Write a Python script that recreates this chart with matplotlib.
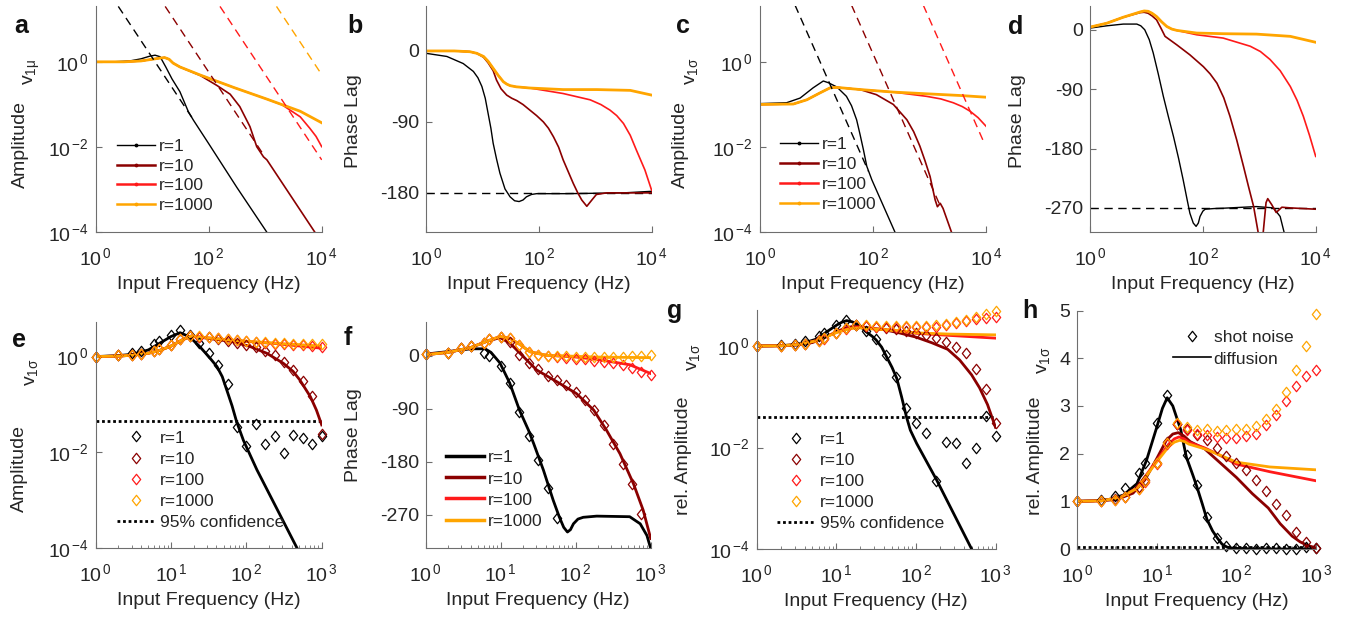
import numpy as np
import matplotlib
matplotlib.use("Agg")
import matplotlib.pyplot as plt
from matplotlib.lines import Line2D
from matplotlib.path import Path
from matplotlib.ticker import LogLocator, NullLocator, NullFormatter, FixedLocator, FuncFormatter

plt.rcParams.update({
    "font.family": ["Liberation Sans", "DejaVu Sans"],
    "font.size": 14,
    "mathtext.fontset": "custom",
    "mathtext.rm": "Liberation Sans",
    "mathtext.it": "Liberation Sans",
    "mathtext.bf": "Liberation Sans:bold",
    "axes.unicode_minus": False,
    "text.color": "#262626",
    "axes.labelcolor": "#262626",
})

# ---------------------------------------------------------------- colours
C1, C10, C100, C1000 = "#000000", "#8b0000", "#ff1a1a", "#ffa500"
RATES = ["r=1", "r=10", "r=100", "r=1000"]
COLS = [C1, C10, C100, C1000]

# ---------------------------------------------------------------- data
# top row: log10(frequency / Hz) and log10(amplitude) or phase (deg)
# (a) v1mu amplitude
a_lf_r1 = [0, 0.3, 0.6, 0.8, 0.95, 1.05, 1.14, 1.24, 1.35, 1.49, 1.64, 1.73, 2.0, 2.5, 3.03]
a_la_r1 = [0, 0.0, 0.02, 0.07, 0.13, 0.156, 0.12, -0.12, -0.40, -0.70, -1.17, -1.37, -1.92, -2.95, -4.0]
a_lf_r10 = [0, 0.5, 0.8, 1.0, 1.15, 1.22, 1.3, 1.37, 1.49, 1.85, 2.14, 2.38, 2.55, 2.73, 2.85, 2.97, 3.03, 3.5, 3.88]
a_la_r10 = [0, 0.0, 0.02, 0.06, 0.09, 0.10, 0.06, -0.03, -0.12, -0.32, -0.55, -0.76, -1.05, -1.52, -1.99, -2.23, -2.30, -3.24, -4.0]
a_lf_r100 = [0, 0.5, 0.8, 1.0, 1.15, 1.22, 1.3, 1.37, 1.49, 1.85, 2.44, 3.03, 3.3, 3.62, 3.79, 3.9, 4.0]
a_la_r100 = [0, 0.0, 0.02, 0.06, 0.09, 0.10, 0.06, -0.03, -0.12, -0.31, -0.60, -0.875, -1.01, -1.29, -1.56, -1.75, -1.99]
a_lf_r1000 = [0, 0.5, 0.8, 1.0, 1.15, 1.22, 1.3, 1.37, 1.49, 1.85, 2.44, 3.03, 3.62, 4.0]
a_la_r1000 = [0, 0.0, 0.02, 0.06, 0.09, 0.10, 0.06, -0.03, -0.12, -0.31, -0.60, -0.875, -1.16, -1.43]
a_asym_lf = [[0.40, 1.70], [1.23, 2.97], [2.20, 4.0], [3.20, 4.0]]
a_asym_la = [[1.30, -1.30], [1.30, -2.18], [1.30, -2.30], [1.30, -0.30]]

# (b) v1mu phase
b_lf_r1 = [0, 0.37, 0.66, 0.84, 0.92, 0.99, 1.05, 1.10, 1.15, 1.19, 1.25, 1.31, 1.40, 1.49, 1.57, 1.65,
           1.72, 1.78, 1.87, 1.96, 2.5, 3.0, 3.5, 4.0]
b_ph_r1 = [-3, -7, -16, -26, -34, -45, -60, -79, -98, -117, -137, -155, -175, -185, -190, -191,
           -189, -185, -182, -181, -181, -180.5, -180, -178]
b_lf_r10 = [0, 0.5, 0.78, 0.9, 1.02, 1.1, 1.19, 1.25, 1.33, 1.43, 1.52, 1.61, 1.72, 1.84, 1.96, 2.08, 2.17,
            2.26, 2.35, 2.43, 2.52, 2.61, 2.69, 2.76, 2.85, 2.94, 3.02, 3.2, 3.6, 4.0]
b_ph_r10 = [0, 0, -1, -3, -8, -15, -25, -37, -48, -56, -60, -63, -68, -75, -82, -90, -98,
            -109, -122, -138, -153, -168, -180, -189, -197, -189, -182, -180, -180, -180]
b_lf_r100 = [0, 0.5, 0.78, 0.9, 1.02, 1.1, 1.19, 1.28, 1.37, 1.43, 1.49, 1.6, 1.84, 2.43, 2.91, 3.1, 3.26,
             3.38, 3.50, 3.62, 3.73, 3.88, 4.0]
b_ph_r100 = [0, 0, -1, -3, -7, -13, -22, -31, -39, -42, -44, -45.5, -47, -54, -62, -68, -75,
             -82, -92, -107, -126, -151, -177]
b_lf_r1000 = [0, 0.5, 0.78, 0.9, 1.02, 1.1, 1.19, 1.28, 1.37, 1.43, 1.49, 1.6, 1.84, 2.43, 3.03, 3.62, 4.0]
b_ph_r1000 = [0, 0, -1, -3, -7, -13, -22, -31, -39, -42, -44, -45.5, -47, -49, -49, -50, -56]
b_asym = -180

# (c) v1sigma amplitude
c_lf_r1 = [0, 0.47, 0.71, 0.94, 1.12, 1.21, 1.36, 1.53, 1.62, 1.71, 1.77, 1.83, 1.89, 1.98, 2.39]
c_la_r1 = [-0.98, -0.96, -0.85, -0.61, -0.45, -0.49, -0.59, -0.81, -1.03, -1.36, -1.70, -2.06, -2.45, -2.77, -4.0]
c_lf_r10 = [0, 0.59, 0.83, 1.06, 1.24, 1.36, 1.77, 2.06, 2.36, 2.60, 2.72, 2.83, 2.92, 3.01, 3.10, 3.14, 3.19,
            3.24, 3.39]
c_la_r10 = [-1.0, -0.99, -0.89, -0.73, -0.61, -0.60, -0.65, -0.77, -1.0, -1.36, -1.64, -1.98, -2.32, -2.69, -3.24,
            -3.40, -3.32, -3.44, -4.0]
c_lf_r100 = [0, 0.59, 0.83, 1.06, 1.24, 1.36, 1.77, 2.36, 2.95, 3.2, 3.42, 3.58, 3.72, 3.86, 4.0]
c_la_r100 = [-1.0, -0.99, -0.89, -0.73, -0.61, -0.60, -0.65, -0.71, -0.81, -0.87, -0.96, -1.05, -1.16, -1.31, -1.51]
c_lf_r1000 = [0, 0.59, 0.83, 1.06, 1.24, 1.36, 1.77, 2.36, 2.95, 3.54, 4.0]
c_la_r1000 = [-1.0, -0.99, -0.89, -0.73, -0.61, -0.60, -0.65, -0.71, -0.75, -0.79, -0.83]
c_asym_lf = [[0.62, 1.92], [1.62, 3.19], [2.89, 3.98]]
c_asym_la = [[1.33, -2.57], [1.33, -3.38], [1.33, -1.94]]

# (d) v1sigma phase
d_lf_r1 = [0, 0.30, 0.59, 0.83, 0.90, 0.97, 1.05, 1.12, 1.21, 1.30, 1.39, 1.48, 1.57, 1.65, 1.72, 1.77, 1.83,
           1.88, 1.92, 1.95, 2.0, 2.04, 2.2, 2.36, 2.95, 3.25, 3.37, 3.44, 3.5]
d_ph_r1 = [2.5, 6, 8.6, 8.6, 6, 0, -15, -35, -67, -101, -132, -162, -195, -227, -257, -278, -293,
           -298, -293, -283, -275, -272, -271, -270.5, -268, -270, -283, -307, -330]
d_lf_r10 = [0, 0.30, 0.59, 0.89, 0.96, 1.03, 1.1, 1.18, 1.26, 1.33, 1.54, 1.77, 2.01, 2.13, 2.25, 2.37, 2.48,
            2.60, 2.72, 2.81, 2.90, 2.98, 3.02, 3.06, 3.07, 3.12, 3.15, 3.22, 3.30, 3.40, 3.55, 4.0]
d_ph_r10 = [4, 10, 19, 26, 26.5, 25, 21, 15, 2, -10, -23, -38, -56, -67, -81, -103, -131,
            -167, -207, -238, -268, -307, -340, -340, -307, -262, -256, -265, -277, -269, -270, -272]
d_lf_r100 = [0, 0.30, 0.59, 0.89, 0.96, 1.03, 1.1, 1.18, 1.27, 1.36, 1.45, 1.54, 1.89, 2.36, 2.84, 3.02, 3.19,
             3.37, 3.55, 3.67, 3.78, 3.89, 4.0]
d_ph_r100 = [4, 10, 19, 27, 28.5, 28, 25, 20, 12, 5, 1, -1, -7.6, -12.6, -25, -33, -45,
             -62, -86, -107, -131, -160, -192]
d_lf_r1000 = [0, 0.30, 0.59, 0.89, 0.96, 1.03, 1.1, 1.18, 1.27, 1.36, 1.45, 1.54, 1.89, 2.36, 2.95, 3.55, 4.0]
d_ph_r1000 = [4, 10, 19, 27, 28.5, 28, 25, 20, 12, 5, 1, -1, -5, -6, -6.6, -10, -19]
d_asym = -270

# bottom row: simulation frequencies (Hz)
F_sim = [1, 2, 3, 4, 6, 7, 10, 13.3, 17.8, 23.7, 31.6, 42.2, 56.2, 75, 100, 133, 178, 237, 316, 422, 562, 750, 1000]

# (e) v1sigma amplitude, shot noise (diamonds, log10) and diffusion (lines)
e_dia_r1 = [0, 0.04, 0.07, 0.12, 0.26, 0.32, 0.46, 0.56, 0.45, 0.28, 0.07, -0.17, -0.57, -1.47, -1.88, -1.41,
            -1.82, -1.66, -2.02, -1.64, -1.71, -1.82, -1.66]
e_dia_r10 = [0, 0.03, 0.04, 0.06, 0.11, 0.16, 0.25, 0.36, 0.44, 0.42, 0.40, 0.37, 0.33, 0.29, 0.25, 0.20,
             0.11, 0.03, -0.11, -0.29, -0.52, -0.82, -1.62]
e_dia_r100 = [0, 0.03, 0.04, 0.06, 0.11, 0.16, 0.25, 0.36, 0.44, 0.42, 0.40, 0.38, 0.36, 0.34, 0.32, 0.30,
              0.29, 0.27, 0.26, 0.25, 0.24, 0.22, 0.20]
e_dia_r1000 = [0, 0.03, 0.04, 0.06, 0.11, 0.16, 0.25, 0.36, 0.44, 0.43, 0.41, 0.39, 0.37, 0.35, 0.33, 0.31,
               0.30, 0.29, 0.28, 0.27, 0.27, 0.26, 0.26]
e_lf_r1 = [0, 0.3, 0.5, 0.7, 0.85, 1.0, 1.12, 1.25, 1.38, 1.5, 1.61, 1.68, 1.74, 1.81, 1.87, 1.96, 2.14, 2.67]
e_la_r1 = [0, 0.02, 0.05, 0.14, 0.28, 0.42, 0.50, 0.41, 0.21, 0.0, -0.21, -0.42, -0.70, -1.03, -1.36, -1.75,
           -2.37, -4.0]
e_lf_r10 = [0, 0.3, 0.5, 0.7, 0.85, 1.0, 1.15, 1.27, 1.5, 1.83, 2.05, 2.27, 2.49, 2.62, 2.71, 2.85, 2.93, 3.0]
e_la_r10 = [0, 0.01, 0.03, 0.07, 0.13, 0.22, 0.35, 0.43, 0.38, 0.31, 0.21, 0.07, -0.14, -0.31, -0.49, -0.84,
            -1.12, -1.43]
e_lf_r100 = [0, 0.3, 0.5, 0.7, 0.85, 1.0, 1.15, 1.27, 1.5, 1.83, 2.4, 3.0]
e_la_r100 = [0, 0.01, 0.03, 0.07, 0.13, 0.22, 0.35, 0.43, 0.39, 0.34, 0.27, 0.175]
e_lf_r1000 = [0, 0.3, 0.5, 0.7, 0.85, 1.0, 1.15, 1.27, 1.5, 1.83, 2.4, 3.0]
e_la_r1000 = [0, 0.01, 0.03, 0.07, 0.13, 0.22, 0.35, 0.43, 0.39, 0.34, 0.28, 0.22]
e_conf = 0.044

# (f) v1sigma phase (deg)
f_dia_r1 = [3, 5.6, 13, 16, 5, 0, -17, -46, -95, -136, -177, -225, -276] + [np.nan] * 10
f_dia_r10 = [3, 5.6, 13, 16, 22, 28, 32, 24, 2, -12, -23, -35, -41, -49, -61, -75, -92, -118, -149, -183,
             -217, -268, np.nan]
f_dia_r100 = [3, 5.6, 13, 16, 22, 28, 32, 30, 18, 7, 2, -1, -2, -3, -5, -6, -8, -10, -12, -15, -21, -27, -32]
f_dia_r1000 = [3, 5.6, 13, 16, 22, 28, 32, 30, 18, 7, 2, 0, -1, -1, -2, -2, -2, -2, -2, -2, -1, -1, 1]
f_lf_r1 = [0, 0.28, 0.6, 0.79, 0.87, 0.99, 1.12, 1.25, 1.37, 1.44, 1.57, 1.70, 1.78, 1.84, 1.89, 1.93, 1.97,
           2.03, 2.10, 2.28, 2.72, 2.86, 2.95, 3.0]
f_ph_r1 = [3, 7, 12, 12, 6, -12, -46, -92, -126, -149, -194, -245, -273, -291, -299, -295, -285,
           -277, -274, -272, -273, -285, -305, -327]
f_lf_r10 = [0, 0.3, 0.6, 0.8, 0.99, 1.12, 1.30, 1.48, 1.75, 2.01, 2.24, 2.41, 2.59, 2.77, 2.90, 3.0]
f_ph_r10 = [2, 6, 14, 24, 31, 22, -1, -24, -44, -64, -92, -126, -166, -217, -262, -310]
f_lf_r100 = [0, 0.3, 0.6, 0.8, 0.99, 1.12, 1.26, 1.39, 1.61, 2.0, 2.28, 2.72, 3.0]
f_ph_r100 = [2, 6, 14, 24, 33, 30, 19, 7, 1, -2, -6, -15, -30]
f_lf_r1000 = [0, 0.3, 0.6, 0.8, 0.99, 1.12, 1.26, 1.39, 1.61, 2.28, 3.0]
f_ph_r1000 = [2, 6, 14, 24, 33, 30, 19, 7, 1, -2, -3]

# (g, h) relative v1sigma amplitude (linear)
gh_dia_r1 = [1.0, 1.03, 1.12, 1.28, 1.6, 1.8, 2.65, 3.22, 2.62, 1.97, 1.35, 0.68, 0.24, 0.059, 0.031, 0.019,
             0.0022, 0.013, 0.012, 0.0049, 0.010, 0.041, 0.017]
gh_dia_r10 = [1.0, 1.0, 1.05, 1.1, 1.3, 1.45, 1.8, 2.25, 2.62, 2.52, 2.4, 2.28, 2.12, 1.95, 1.8, 1.65, 1.45,
              1.22, 0.95, 0.72, 0.36, 0.14, 0.03]
gh_dia_r100 = [1.0, 1.0, 1.03, 1.08, 1.25, 1.4, 1.78, 2.2, 2.62, 2.5, 2.42, 2.38, 2.35, 2.33, 2.32, 2.36, 2.42,
               2.6, 2.8, 3.1, 3.42, 3.63, 3.75]
gh_dia_r1000 = [1.0, 1.0, 1.03, 1.08, 1.25, 1.42, 1.8, 2.22, 2.65, 2.55, 2.49, 2.52, 2.48, 2.49, 2.52, 2.52,
                2.57, 2.73, 2.94, 3.29, 3.75, 4.25, 4.93]
gh_lf_r1 = [0, 0.2, 0.4, 0.58, 0.75, 0.87, 1.0, 1.07, 1.13, 1.2, 1.3, 1.37, 1.45, 1.5, 1.57, 1.63, 1.7, 1.76,
            1.82, 1.88, 1.93, 2.01, 2.26, 2.70, 3.0]
gh_v_r1 = [1.0, 1.01, 1.04, 1.13, 1.37, 1.86, 2.56, 2.95, 3.17, 3.0, 2.5, 1.93, 1.56, 1.32, 0.95, 0.62, 0.38,
           0.23, 0.10, 0.041, 0.022, 0.012, 0.0023, 0.0001, 0.000013]
gh_lf_r10 = [0, 0.3, 0.5, 0.7, 0.85, 1.0, 1.12, 1.2, 1.27, 1.34, 1.42, 1.6, 1.8, 2.0, 2.2, 2.4, 2.55, 2.7, 2.8,
             2.9, 3.0]
gh_v_r10 = [1.0, 1.01, 1.04, 1.17, 1.45, 1.9, 2.28, 2.41, 2.44, 2.37, 2.25, 2.1, 1.8, 1.5, 1.16, 0.86, 0.53,
            0.27, 0.15, 0.07, 0.025]
gh_lf_r100 = [0, 0.3, 0.54, 0.75, 1.0, 1.15, 1.22, 1.28, 1.34, 1.4, 1.6, 1.75, 2.0, 2.42, 3.0]
gh_v_r100 = [1.0, 1.01, 1.08, 1.28, 1.86, 2.2, 2.31, 2.35, 2.31, 2.24, 2.12, 2.0, 1.78, 1.62, 1.43]
gh_lf_r1000 = [0, 0.3, 0.54, 0.75, 1.0, 1.15, 1.22, 1.29, 1.35, 1.4, 1.6, 1.75, 2.0, 2.42, 3.0]
gh_v_r1000 = [1.0, 1.01, 1.08, 1.27, 1.83, 2.15, 2.24, 2.28, 2.25, 2.2, 2.1, 2.0, 1.82, 1.72, 1.66]
gh_conf = 0.04


def p10(v):
    return 10.0 ** np.asarray(v, dtype=float)


# ---------------------------------------------------------------- figure
W, H = 1359, 617
fig = plt.figure(figsize=(W / 100, H / 100), dpi=100)
FS_TICK, FS_LABEL, FS_LEG = 14, 14, 12.5


def add_ax(x0, top, x1, bottom):
    return fig.add_axes([x0 / W, 1 - bottom / H, (x1 - x0) / W, (bottom - top) / H])


AXCOL = "#6e6e6e"


def pow10(v, pos):
    e = int(round(np.log10(v)))
    return r"$\mathdefault{10}^{\,\mathdefault{%d}}$" % e


def style(ax):
    for s in ("top", "right"):
        ax.spines[s].set_visible(False)
    for s in ("left", "bottom"):
        ax.spines[s].set_color(AXCOL)
        ax.spines[s].set_linewidth(0.8)
    ax.tick_params(which="both", direction="in", color=AXCOL, labelcolor="#262626", labelsize=FS_TICK)
    ax.tick_params(which="major", length=4, width=0.8)
    ax.tick_params(which="minor", length=2.2, width=0.6)
    ax.tick_params(axis="x", which="major", pad=11)
    ax.tick_params(axis="y", which="major", pad=5)
    ax.patch.set_alpha(0)


def freq_axis(ax, top_row):
    ax.set_xscale("log")
    if top_row:
        ax.set_xlim(1, 1e4)
        ax.xaxis.set_major_locator(FixedLocator([1, 1e2, 1e4]))
        ax.xaxis.set_minor_locator(NullLocator())
    else:
        ax.set_xlim(1, 1e3)
        ax.xaxis.set_major_locator(FixedLocator([1, 10, 100, 1000]))
        ax.xaxis.set_minor_locator(LogLocator(base=10, subs=np.arange(2, 10)))
        ax.xaxis.set_minor_formatter(NullFormatter())
    ax.xaxis.set_major_formatter(FuncFormatter(pow10))
    ax.set_xlabel("Input Frequency (Hz)", fontsize=FS_LABEL, labelpad=5)


def log_amp_axis(ax, top_exp):
    ax.set_yscale("log")
    ax.set_ylim(1e-4, 10 ** top_exp)
    ax.yaxis.set_major_locator(FixedLocator([1e-4, 1e-2, 1]))
    ax.yaxis.set_minor_locator(NullLocator())
    ax.yaxis.set_major_formatter(FuncFormatter(pow10))


def vtext(x, y, s):
    fig.text(x / W, 1 - y / H, s, rotation=90, ha="center", va="center", fontsize=FS_LABEL)


def letter(x, y, s):
    fig.text(x / W, 1 - y / H, s, fontsize=18, fontweight="bold", color="#111111", va="baseline")


DIAMOND = Path([(0, 1), (0.8, 0), (0, -1), (-0.8, 0), (0, 1)],
               [Path.MOVETO, Path.LINETO, Path.LINETO, Path.LINETO, Path.CLOSEPOLY])
TOP_LW = [1.0, 1.2, 1.2, 2.0]


def legend(ax, hs, labels, x, y, spacing, hl=2.2, pad=0.2):
    ax.legend(hs, labels, loc="upper left", bbox_to_anchor=(x, y), frameon=False, fontsize=FS_LEG,
              borderpad=0, borderaxespad=0, handlelength=hl, handletextpad=pad, labelspacing=spacing)


def top_legend(ax, x, y):
    hs = [Line2D([], [], color=c, lw=w, marker=".", ms=3.5)
          for c, w in zip(COLS, [1.0, 1.8, 1.8, 1.8])]
    legend(ax, hs, RATES, x, y, 0.27)


def diamond_legend(ax, x, y):
    hs = [Line2D([], [], ls="none", marker=DIAMOND, ms=7.5, mfc="none", mec=c, mew=0.9) for c in COLS]
    hs.append(Line2D([], [], color="k", ls=(0, (1, 1)), lw=2))
    legend(ax, hs, RATES + ["95% confidence"], x, y, 0.34, pad=0.3)


def diamonds(ax, x, y, c):
    ax.plot(x, y, ls="none", marker=DIAMOND, ms=7.5, mfc="none", mec=c, mew=0.9, clip_on=False)


# ---------------------------------------------------------------- (a)
ax = add_ax(95.7, 6, 321.7, 232.3)
style(ax)
for lf, la, c, w in zip([a_lf_r1, a_lf_r10, a_lf_r100, a_lf_r1000],
                        [a_la_r1, a_la_r10, a_la_r100, a_la_r1000], COLS, TOP_LW):
    ax.plot(p10(lf), p10(la), color=c, lw=w)
for lf, la, c in zip(a_asym_lf, a_asym_la, COLS):
    ax.plot(p10(lf), p10(la), color=c, lw=1.0, ls=(0, (6, 4)))
freq_axis(ax, True)
log_amp_axis(ax, 1.31)
vtext(20, 144, "Amplitude")
vtext(32, 72, r"$v_{1\mu}$")
top_legend(ax, 0.094, 0.414)
letter(14, 33, "a")

# ---------------------------------------------------------------- (b)
ax = add_ax(426, 6, 651.7, 232.3)
style(ax)
ax.axhline(b_asym, color="k", lw=1.0, ls=(0, (6, 4)))
for lf, ph, c, w in zip([b_lf_r1, b_lf_r10, b_lf_r100, b_lf_r1000],
                        [b_ph_r1, b_ph_r10, b_ph_r100, b_ph_r1000], COLS, TOP_LW):
    ax.plot(p10(lf), ph, color=c, lw=w)
freq_axis(ax, True)
ax.set_ylim(-230, 57)
ax.yaxis.set_major_locator(FixedLocator([-180, -90, 0]))
vtext(353, 121, "Phase Lag")
letter(347, 33, "b")

# ---------------------------------------------------------------- (c)
ax = add_ax(760, 6, 986, 232.3)
style(ax)
for lf, la, c, w in zip([c_lf_r1, c_lf_r10, c_lf_r100, c_lf_r1000],
                        [c_la_r1, c_la_r10, c_la_r100, c_la_r1000], COLS, TOP_LW):
    ax.plot(p10(lf), p10(la), color=c, lw=w)
for lf, la, c in zip(c_asym_lf, c_asym_la, COLS[:3]):
    ax.plot(p10(lf), p10(la), color=c, lw=1.0, ls=(0, (6, 4)))
freq_axis(ax, True)
log_amp_axis(ax, 1.31)
vtext(680.5, 144, "Amplitude")
vtext(691, 71, r"$v_{1\sigma}$")
top_legend(ax, 0.088, 0.42)
letter(676, 33, "c")

# ---------------------------------------------------------------- (d)
ax = add_ax(1090, 6, 1315.7, 232.3)
style(ax)
ax.axhline(d_asym, color="k", lw=1.0, ls=(0, (6, 4)))
for lf, ph, c, w in zip([d_lf_r1, d_lf_r10, d_lf_r100, d_lf_r1000],
                        [d_ph_r1, d_ph_r10, d_ph_r100, d_ph_r1000], COLS, TOP_LW):
    ax.plot(p10(lf), ph, color=c, lw=w)
freq_axis(ax, True)
ax.set_ylim(-307, 36)
ax.yaxis.set_major_locator(FixedLocator([-270, -180, -90, 0]))
vtext(1017, 121, "Phase Lag")
letter(1008, 34, "d")

# ---------------------------------------------------------------- (e)
ax = add_ax(95.7, 321.7, 321.7, 547.7)
style(ax)
ax.plot([1, 1000], [e_conf, e_conf], color="k", ls=(0, (1, 1)), lw=2)
for lf, la, c in zip([e_lf_r1, e_lf_r10, e_lf_r100, e_lf_r1000],
                     [e_la_r1, e_la_r10, e_la_r100, e_la_r1000], COLS):
    ax.plot(p10(lf), p10(la), color=c, lw=2)
for d, c in zip([e_dia_r1, e_dia_r10, e_dia_r100, e_dia_r1000], COLS):
    diamonds(ax, F_sim, p10(d), c)
freq_axis(ax, False)
log_amp_axis(ax, 0.73)
vtext(19, 468, "Amplitude")
vtext(32, 372, r"$v_{1\sigma}$")
diamond_legend(ax, 0.093, 0.519)
letter(12, 347, "e")

# ---------------------------------------------------------------- (f)
ax = add_ax(425.7, 321.7, 650.7, 547.7)
style(ax)
for lf, ph, c in zip([f_lf_r1, f_lf_r10, f_lf_r100, f_lf_r1000],
                     [f_ph_r1, f_ph_r10, f_ph_r100, f_ph_r1000], COLS):
    ax.plot(p10(lf), ph, color=c, lw=2)
for d, c in zip([f_dia_r1, f_dia_r10, f_dia_r100, f_dia_r1000], COLS):
    diamonds(ax, F_sim, d, c)
freq_axis(ax, False)
ax.set_ylim(-325.6, 58)
ax.yaxis.set_major_locator(FixedLocator([-270, -180, -90, 0]))
vtext(353.5, 435, "Phase Lag")
legend(ax, [Line2D([], [], color=c, lw=2.5) for c in COLS], RATES, 0.09, 0.431, 0.34)
letter(344, 345, "f")

# ---------------------------------------------------------------- (g) and (h)
gh_lines = [(gh_lf_r1, gh_v_r1), (gh_lf_r10, gh_v_r10), (gh_lf_r100, gh_v_r100), (gh_lf_r1000, gh_v_r1000)]
gh_dias = [gh_dia_r1, gh_dia_r10, gh_dia_r100, gh_dia_r1000]

ax = add_ax(756.7, 310, 995.5, 549)
style(ax)
ax.plot([1, 1000], [gh_conf, gh_conf], color="k", ls=(0, (1, 1)), lw=2)
for (lf, v), c in zip(gh_lines, COLS):
    ax.plot(p10(lf), v, color=c, lw=2)
for d, c in zip(gh_dias, COLS):
    diamonds(ax, F_sim, d, c)
freq_axis(ax, False)
log_amp_axis(ax, 0.71)
vtext(684, 456, "rel. Amplitude")
vtext(693, 357, r"$v_{1\sigma}$")
diamond_legend(ax, 0.084, 0.490)
letter(667, 318, "g")

ax = add_ax(1077.3, 310.5, 1316, 549)
style(ax)
ax.plot([1, 1000], [gh_conf, gh_conf], color="k", ls=(0, (1, 1)), lw=2)
for (lf, v), c in zip(gh_lines, COLS):
    ax.plot(p10(lf), v, color=c, lw=2)
for d, c in zip(gh_dias, COLS):
    diamonds(ax, F_sim, d, c)
freq_axis(ax, False)
ax.set_ylim(0, 5)
ax.yaxis.set_major_locator(FixedLocator([0, 1, 2, 3, 4, 5]))
vtext(1035, 456, "rel. Amplitude")
vtext(1044, 360, r"$v_{1\sigma}$")
hs = [Line2D([], [], ls="none", marker=DIAMOND, ms=7.5, mfc="none", mec="k", mew=0.9),
      Line2D([], [], color="k", lw=1.2)]
legend(ax, hs, ["shot noise", "diffusion"], 0.40, 0.917, 0.34, pad=0.15)
letter(1022, 318, "h")

fig.savefig("out.png", dpi=100)
